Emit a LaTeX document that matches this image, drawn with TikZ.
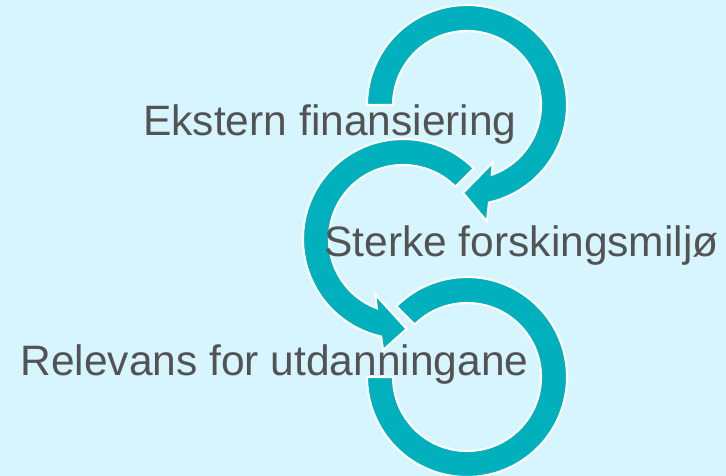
\documentclass[tikz,border=0pt]{standalone}
\usepackage{fontspec}
\setmainfont{Liberation Sans}
\usetikzlibrary{calc}
\definecolor{bgcyan}{RGB}{214,245,255}
\definecolor{ringteal}{RGB}{0,176,189}
\definecolor{labelgray}{RGB}{83,83,83}

\begin{document}
\begin{tikzpicture}[
    x=0.02cm, y=0.02cm,
    ring/.style={fill=ringteal, draw=white, line width=1.2pt, line join=miter},
    steptext/.style={anchor=base, inner sep=0pt, text=labelgray, font=\fontsize{24.2}{29}\selectfont}
]
    % background and page size
    \fill[bgcyan] (0,0) rectangle (726,476);
    \useasboundingbox (0,0) rectangle (726,476);
    \clip (0,0) rectangle (726,476);

    \coordinate (c1) at (467,371);
    \coordinate (c2) at (403,237);
    \coordinate (c3) at (467,99);

    % top ring, clockwise with arrow
    \filldraw[ring] ($(c1)+(180:100)$) arc[start angle=180, end angle=-77.3, radius=100]
        -- ($(c1)+(-80.3:118)$) -- ($(c1)+(-92.6:88)$) -- ($(c1)+(-65.9:63)$)
        -- ($(c1)+(-70.4:74)$) arc[start angle=-70.4, end angle=180, radius=74] -- cycle;

    % middle ring, counterclockwise with arrow
    \filldraw[ring] ($(c2)+(45:100)$) arc[start angle=45, end angle=257.4, radius=100]
        -- ($(c2)+(259.8:113)$) -- ($(c2)+(272.3:90)$) -- ($(c2)+(243.4:62)$)
        -- ($(c2)+(249.3:74)$) arc[start angle=249.3, end angle=45, radius=74] -- cycle;

    % bottom ring, no arrow
    \filldraw[ring] ($(c3)+(135:100)$) arc[start angle=135, end angle=-180, radius=100]
        -- ($(c3)+(180:74)$) arc[start angle=-180, end angle=135, radius=74] -- cycle;

    \node[steptext] (ekstern) at (330,340) {Ekstern finansiering};
    \node[steptext] (sterke) at (521.5,219) {Sterke forskingsmiljø};
    \node[steptext] (relevans) at (274.5,100) {Relevans for utdanningane};
\end{tikzpicture}
\end{document}
